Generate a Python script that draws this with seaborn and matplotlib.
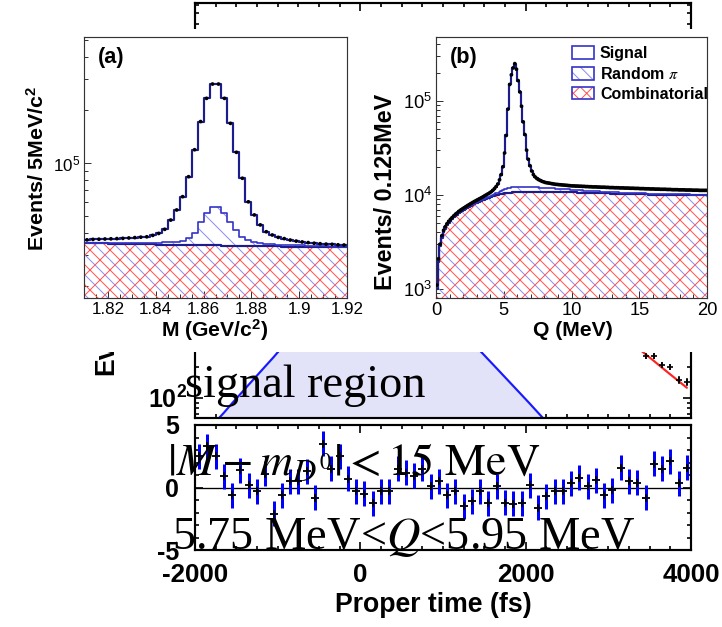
import numpy as np
import matplotlib
matplotlib.use("Agg")
import matplotlib.pyplot as plt
import matplotlib.hatch as mhatch
from matplotlib.path import Path
import seaborn as sns
from matplotlib.patches import Patch, Rectangle
from matplotlib.legend_handler import HandlerTuple
from matplotlib.ticker import (LogLocator, NullFormatter, MultipleLocator,
                               FixedLocator, FuncFormatter)

# ------------------------------------------------------------------ data
# (a) reconstructed D0 mass, 2.5 MeV/c^2 bins from 1.81 to 1.92 GeV/c^2
mass_edges = np.round(np.linspace(1.81, 1.92, 45), 4)
mass_total = [3.66e4, 3.68e4, 3.69e4, 3.70e4, 3.71e4, 3.72e4, 3.73e4, 3.75e4, 3.77e4, 3.79e4,
              3.81e4, 3.88e4, 3.98e4, 4.20e4, 4.74e4, 5.41e4, 6.44e4, 8.36e4, 1.19e5, 1.72e5,
              2.33e5, 2.81e5, 2.81e5, 2.33e5, 1.68e5, 1.15e5, 8.19e4, 6.02e4, 5.07e4, 4.45e4,
              4.07e4, 3.90e4, 3.78e4, 3.72e4, 3.65e4, 3.60e4, 3.56e4, 3.53e4, 3.50e4, 3.48e4,
              3.46e4, 3.45e4, 3.43e4, 3.42e4]
mass_comb_rpi = [3.52e4, 3.52e4, 3.52e4, 3.52e4, 3.52e4, 3.52e4, 3.52e4, 3.52e4, 3.52e4, 3.52e4,
                 3.52e4, 3.52e4, 3.53e4, 3.54e4, 3.55e4, 3.57e4, 3.62e4, 3.73e4, 3.98e4, 4.64e4,
                 5.22e4, 5.65e4, 5.65e4, 5.22e4, 4.64e4, 4.16e4, 3.81e4, 3.65e4, 3.55e4, 3.50e4,
                 3.47e4, 3.45e4, 3.44e4, 3.43e4, 3.42e4, 3.41e4, 3.40e4, 3.39e4, 3.38e4, 3.37e4,
                 3.36e4, 3.35e4, 3.35e4, 3.34e4]
mass_comb = [3.50e4, 3.50e4, 3.49e4, 3.49e4, 3.48e4, 3.48e4, 3.47e4, 3.47e4, 3.46e4, 3.46e4,
             3.45e4, 3.45e4, 3.44e4, 3.44e4, 3.43e4, 3.43e4, 3.42e4, 3.42e4, 3.41e4, 3.41e4,
             3.40e4, 3.40e4, 3.40e4, 3.39e4, 3.39e4, 3.38e4, 3.38e4, 3.38e4, 3.37e4, 3.37e4,
             3.36e4, 3.36e4, 3.36e4, 3.35e4, 3.35e4, 3.35e4, 3.34e4, 3.34e4, 3.34e4, 3.34e4,
             3.33e4, 3.33e4, 3.33e4, 3.33e4]

# (b) Q value, 0.125 MeV bins from 0 to 20 MeV (in thousands of events)
q_edges = np.linspace(0.0, 20.0, 161)
q_total_k = [1.1, 2.1, 3.0, 3.7, 4.2, 4.6, 4.95, 5.25, 5.5, 5.75,
             6.0, 6.25, 6.45, 6.7, 6.9, 7.1, 7.3, 7.5, 7.7, 7.9,
             8.1, 8.3, 8.5, 8.7, 8.9, 9.1, 9.3, 9.5, 9.75, 10.0,
             10.25, 10.5, 10.8, 11.2, 11.7, 12.3, 13.1, 14.5, 16.5, 20.0,
             28.0, 43.0, 82.0, 150.0, 190.0, 225.0, 250.0, 218.0, 165.0, 125.0,
             88.0, 60.0, 44.0, 30.0, 24.0, 20.5, 18.0, 16.5, 15.6, 15.0,
             14.6, 14.3, 14.0, 13.8, 13.6, 13.5, 13.4, 13.3, 13.2, 13.1,
             13.0, 12.95, 12.9, 12.85, 12.8, 12.75, 12.7, 12.65, 12.6, 12.55,
             12.5, 12.5, 12.45, 12.45, 12.4, 12.4, 12.35, 12.35, 12.3, 12.3,
             12.25, 12.25, 12.2, 12.2, 12.2, 12.15, 12.15, 12.1, 12.1, 12.1,
             12.05, 12.05, 12.0, 12.0, 12.0, 11.95, 11.95, 11.95, 11.9, 11.9,
             11.9, 11.85, 11.85, 11.85, 11.8, 11.8, 11.8, 11.75, 11.75, 11.75,
             11.7, 11.7, 11.7, 11.65, 11.65, 11.65, 11.6, 11.6, 11.6, 11.55,
             11.55, 11.55, 11.5, 11.5, 11.5, 11.5, 11.45, 11.45, 11.45, 11.4,
             11.4, 11.4, 11.4, 11.35, 11.35, 11.35, 11.35, 11.3, 11.3, 11.3,
             11.3, 11.25, 11.25, 11.25, 11.25, 11.2, 11.2, 11.2, 11.2, 11.2]
q_comb_rpi_k = [1.05, 2.02, 2.95, 3.6, 4.1, 4.5, 4.85, 5.15, 5.4, 5.65,
                5.9, 6.1, 6.3, 6.5, 6.7, 6.9, 7.05, 7.25, 7.4, 7.6,
                7.75, 7.9, 8.1, 8.25, 8.4, 8.6, 8.75, 8.9, 9.1, 9.25,
                9.45, 9.6, 9.8, 10.0, 10.2, 10.4, 10.6, 10.8, 11.0, 11.25,
                11.5, 11.7, 11.85, 12.0, 12.1, 12.1, 12.1, 12.1, 12.1, 12.1,
                12.1, 12.1, 12.1, 12.1, 12.1, 12.1, 12.1, 12.1, 12.1, 12.1,
                12.05, 12.0, 12.0, 11.95, 11.9, 11.9, 11.85, 11.8, 11.8, 11.75,
                11.7, 11.7, 11.65, 11.6, 11.6, 11.55, 11.5, 11.5, 11.45, 11.4,
                11.4, 11.35, 11.3, 11.3, 11.25, 11.2, 11.2, 11.15, 11.1, 11.1,
                11.05, 11.0, 11.0, 10.95, 10.95, 10.9, 10.9, 10.85, 10.85, 10.8,
                10.8, 10.75, 10.75, 10.7, 10.7, 10.7, 10.65, 10.65, 10.6, 10.6,
                10.6, 10.55, 10.55, 10.55, 10.5, 10.5, 10.5, 10.45, 10.45, 10.45,
                10.4, 10.4, 10.4, 10.4, 10.35, 10.35, 10.35, 10.35, 10.3, 10.3,
                10.3, 10.3, 10.3, 10.25, 10.25, 10.25, 10.25, 10.25, 10.2, 10.2,
                10.2, 10.2, 10.2, 10.2, 10.15, 10.15, 10.15, 10.15, 10.15, 10.15,
                10.1, 10.1, 10.1, 10.1, 10.1, 10.1, 10.1, 10.1, 10.1, 10.1]
q_comb_k = [1.0, 1.95, 2.85, 3.5, 4.0, 4.4, 4.75, 5.05, 5.3, 5.55,
            5.8, 6.0, 6.2, 6.4, 6.6, 6.8, 6.95, 7.15, 7.3, 7.5,
            7.65, 7.8, 8.0, 8.15, 8.3, 8.45, 8.6, 8.75, 8.9, 9.05,
            9.2, 9.35, 9.5, 9.65, 9.8, 9.95, 10.05, 10.15, 10.25, 10.35,
            10.45, 10.5, 10.55, 10.6, 10.6, 10.65, 10.65, 10.7, 10.7, 10.7,
            10.7, 10.7, 10.7, 10.7, 10.7, 10.7, 10.7, 10.7, 10.7, 10.7,
            10.7, 10.7, 10.7, 10.7, 10.7, 10.7, 10.7, 10.7, 10.7, 10.7,
            10.7, 10.7, 10.7, 10.7, 10.7, 10.7, 10.7, 10.7, 10.7, 10.7,
            10.65, 10.65, 10.65, 10.6, 10.6, 10.6, 10.6, 10.55, 10.55, 10.55,
            10.55, 10.5, 10.5, 10.5, 10.5, 10.45, 10.45, 10.45, 10.45, 10.4,
            10.4, 10.4, 10.4, 10.35, 10.35, 10.35, 10.35, 10.3, 10.3, 10.3,
            10.3, 10.25, 10.25, 10.25, 10.25, 10.2, 10.2, 10.2, 10.2, 10.2,
            10.15, 10.15, 10.15, 10.15, 10.15, 10.1, 10.1, 10.1, 10.1, 10.1,
            10.1, 10.1, 10.1, 10.1, 10.1, 10.05, 10.05, 10.05, 10.05, 10.05,
            10.05, 10.05, 10.05, 10.05, 10.05, 10.0, 10.0, 10.0, 10.0, 10.0,
            10.0, 10.0, 10.0, 10.0, 10.0, 10.0, 10.0, 10.0, 10.0, 10.0]

# proper-time distribution in the signal region, 100 fs bins
t_centers = np.arange(-1950, 4000, 100)
t_signal_fit = [39, 48, 59, 72, 89, 109, 134, 164, 201, 246,
                305, 390, 520, 720, 1050, 1600, 2500, 3900, 5800, 8000,
                10000, 11200, 11500, 11000, 9800, 8300, 6700, 5200, 3900, 2800,
                1950, 1300, 850, 450, 283, 233, 192, 158, 130, 107,
                88, 72, 59, 49, 40, 33, 27, 22, 18, 15,
                12, 10, 8.3, 6.8, 5.6, 4.6, 3.8, 3.1, 2.6, 2.1]
t_total_fit = [600, 620, 640, 660, 690, 720, 760, 800, 850, 900,
               960, 1050, 1200, 1400, 1800, 2400, 3300, 4700, 6600, 8800,
               10800, 12000, 12300, 11800, 10600, 9100, 7500, 6000, 4700, 3600,
               2800, 2200, 1800, 1500, 1300, 1150, 1050, 970, 900, 840,
               790, 740, 700, 660, 620, 590, 560, 530, 500, 470,
               440, 412, 355, 305, 263, 227, 195, 168, 145, 125]
t_data = [661, 702, 703, 683, 674, 758, 765, 792, 882, 837,
          941, 1066, 1217, 1445, 1766, 2571, 3397, 4872, 6657, 8772,
          10748, 11862, 12267, 11767, 10755, 9233, 7587, 6116, 4707, 3630,
          2768, 2186, 1737, 1457, 1289, 1107, 1053, 933, 861, 804,
          796, 697, 682, 652, 612, 598, 579, 532, 513, 457,
          436, 444, 364, 312, 250, 253, 208, 198, 149, 142]
t_pull = [2.5, 3.3, 2.5, 0.9, -0.6, 1.4, 0.2, -0.3, 1.1, -2.1,
          -0.6, 0.5, 0.5, 1.3, -0.8, 3.5, 1.5, 2.5, 0.7, -0.3,
          -0.5, -1.25, -0.3, -0.3, 1.5, 1.2, 0.95, 1.5, 0.1, 0.5,
          -0.6, -0.3, -1.5, -1.1, -0.3, -1.25, 0.1, -1.2, -1.3, -1.25,
          0.2, -1.6, -0.7, -0.3, -0.3, 0.35, 0.8, 0.1, 0.6, -0.6,
          -0.2, 1.6, 0.5, 0.4, -0.8, 1.9, 1.5, 2.1, 0.35, 1.6]


# ------------------------------------------------------------------ hatching
# The "\" hatch of the random-pi fill sits half a spacing away from the
# "\" strokes of the "x" hatch, so both stay visible where they overlap.
class _CrossBackslash(mhatch.SouthEastHatch):
    def __init__(self, hatch, density):
        self.num_lines = int((hatch.count("x") + hatch.count("X")) * density)
        self.num_vertices = (self.num_lines + 1) * 2 if self.num_lines else 0


class _ShiftedBackslash(mhatch.HatchPatternBase):
    def __init__(self, hatch, density):
        self.num_lines = int(hatch.count("\\") * density)
        self.num_vertices = (self.num_lines + 2) * 2 if self.num_lines else 0

    def set_vertices_and_codes(self, vertices, codes):
        n = self.num_lines
        steps = (np.arange(n + 2) - 0.5) / n - 0.5
        vertices[0::2, 0] = 0.0 + steps
        vertices[0::2, 1] = 1.0 + steps
        vertices[1::2, 0] = 1.0 + steps
        vertices[1::2, 1] = 0.0 + steps
        codes[0::2] = Path.MOVETO
        codes[1::2] = Path.LINETO


mhatch._hatch_types[mhatch._hatch_types.index(mhatch.SouthEastHatch)] = _CrossBackslash
mhatch._hatch_types.append(_ShiftedBackslash)

# ------------------------------------------------------------------ style
W, H, DPI = 722, 627, 120
NAVY = "#1c1c8f"
LINE_BLUE = "#3434c8"
HATCH_BLUE = "#8c8cf0"
HATCH_RED = "#ff5555"
FIT_BLUE = "#1a1aff"
FILL_BLUE = "#e2e2f9"
FIT_RED = "#ff2222"
PULL_BLUE = "#0000ff"
FRAME = "#333333"

sns.set_theme(style="ticks")
plt.rcParams.update({
    "font.family": ["Liberation Sans", "DejaVu Sans"],
    "mathtext.fontset": "stix",
    "axes.unicode_minus": False,
    "hatch.linewidth": 0.6,
    "axes.facecolor": "white",
    "figure.facecolor": "white",
    "text.color": "black",
    "axes.labelcolor": "black",
    "xtick.color": "black",
    "ytick.color": "black",
    "xtick.labelcolor": "black",
    "ytick.labelcolor": "black",
})


def rect(x0, y0, x1, y1):
    """Axes rectangle from pixel corners (origin top-left)."""
    return [x0 / W, 1 - y1 / H, (x1 - x0) / W, (y1 - y0) / H]


def fpt(x, y):
    return x / W, 1 - y / H


fig = plt.figure(figsize=(W / DPI, H / DPI), dpi=DPI)

# ------------------------------------------------------------------ proper-time fit
ax_t = fig.add_axes(rect(195, 3, 691, 418), zorder=0)
ax_r = fig.add_axes(rect(195, 425, 691, 550), zorder=0)

ax_t.set_yscale("log")
ax_t.fill_between(t_centers, t_signal_fit, 1, color=FILL_BLUE, lw=0, zorder=1)
sns.lineplot(x=t_centers, y=t_signal_fit, ax=ax_t, color=FIT_BLUE, lw=1.3, zorder=2)
sns.lineplot(x=t_centers, y=t_total_fit, ax=ax_t, color=FIT_RED, lw=1.3, zorder=2)
ax_t.errorbar(t_centers, t_data, yerr=np.sqrt(t_data), fmt="+", color="black",
              ms=4, mew=1.0, elinewidth=0.9, zorder=3)
ax_t.set_xlim(-2000, 4000)
ax_t.set_ylim(64, 6.3e5)
ax_t.yaxis.set_major_locator(LogLocator(base=10))
ax_t.yaxis.set_minor_locator(LogLocator(base=10, subs=np.arange(2, 10)))
ax_t.yaxis.set_minor_formatter(NullFormatter())
ax_t.yaxis.set_major_formatter(FuncFormatter(
    lambda v, p: r"$\mathdefault{10^{2}}$" if abs(v - 100) < 1e-6 else ""))

ax_r.axhline(0, color="black", lw=0.8, zorder=1)
ax_r.errorbar(t_centers, t_pull, yerr=1.0, fmt="none", ecolor=PULL_BLUE,
              elinewidth=1.8, zorder=2)
ax_r.plot(t_centers, t_pull, ls="none", marker="+", color="black", ms=5, mew=1.1, zorder=3)
ax_r.set_xlim(-2000, 4000)
ax_r.set_ylim(-5, 5)
ax_r.yaxis.set_major_locator(FixedLocator([-5, 0, 5]))
ax_r.yaxis.set_minor_locator(MultipleLocator(1))

for ax in (ax_t, ax_r):
    ax.set_xlabel("")
    ax.set_ylabel("")
    ax.xaxis.set_major_locator(MultipleLocator(2000))
    ax.xaxis.set_minor_locator(MultipleLocator(250))
    ax.tick_params(which="both", direction="in", top=True, right=True,
                   width=1.0, color="black")
    ax.tick_params(which="major", length=5)
    ax.tick_params(which="minor", length=2.6)
    for sp in ax.spines.values():
        sp.set_linewidth(1.3)
        sp.set_color("black")
ax_t.tick_params(labelbottom=False, labelsize=15, pad=5)
ax_r.tick_params(axis="x", labelsize=15.5, pad=7.5)
ax_r.tick_params(axis="y", labelsize=15, pad=9.5)

fig.text(*fpt(433, 605), "Proper time (fs)", ha="center", va="center",
         fontsize=16, fontweight="bold", zorder=0.5)
fig.text(*fpt(106, 375), "Ev", rotation=90, ha="center", va="bottom",
         fontsize=16, fontweight="bold", zorder=0.5)

# white sheet carrying the mass and Q panels
fig.add_artist(Rectangle(fpt(0, 352), 1, (352 - 29) / H, transform=fig.transFigure,
                         facecolor="white", edgecolor="none", zorder=1))


def stacked_hist(ax, edges, comb_rpi, comb, total, base):
    centers = 0.5 * (edges[:-1] + edges[1:])
    bins = list(edges)
    ax.fill_between(edges, np.append(comb_rpi, comb_rpi[-1]), base, step="post",
                    facecolor="none", edgecolor=HATCH_BLUE, lw=0, hatch="\\\\", zorder=1)
    ax.fill_between(edges, np.append(comb, comb[-1]), base, step="post",
                    facecolor="none", edgecolor=HATCH_RED, lw=0, hatch="xx", zorder=1)
    sns.histplot(x=centers, weights=comb, bins=bins, element="step", fill=False,
                 color=NAVY, linewidth=1.3, ax=ax, zorder=2)
    sns.histplot(x=centers, weights=comb_rpi, bins=bins, element="step", fill=False,
                 color=LINE_BLUE, linewidth=1.0, ax=ax, zorder=2)
    sns.histplot(x=centers, weights=total, bins=bins, element="step", fill=False,
                 color=NAVY, linewidth=1.3, ax=ax, zorder=3)
    sns.scatterplot(x=centers, y=total, ax=ax, color="black", s=5, marker="o",
                    edgecolor="none", zorder=4, legend=False)
    ax.set_yscale("log")
    ax.set_xlabel("")
    ax.set_ylabel("")
    ax.yaxis.set_major_locator(LogLocator(base=10))
    ax.yaxis.set_minor_locator(LogLocator(base=10, subs=np.arange(2, 10)))
    ax.yaxis.set_minor_formatter(NullFormatter())
    ax.tick_params(which="both", direction="in", top=False, right=False,
                   color=FRAME, width=0.6)
    ax.tick_params(which="major", length=4.2)
    ax.tick_params(which="minor", length=2.2)
    for sp in ax.spines.values():
        sp.set_linewidth(0.7)
        sp.set_color(FRAME)


# ------------------------------------------------------------------ (a) mass
ax_a = fig.add_axes(rect(84, 37, 347, 298), zorder=2)
stacked_hist(ax_a, mass_edges, np.array(mass_comb_rpi), np.array(mass_comb),
             np.array(mass_total), 1e3)
ax_a.set_xlim(1.81, 1.92)
ax_a.set_ylim(1.71e4, 5.2e5)
ax_a.xaxis.set_major_locator(MultipleLocator(0.02))
ax_a.xaxis.set_minor_locator(MultipleLocator(0.005))
ax_a.xaxis.set_major_formatter(FuncFormatter(lambda v, p: f"{v:g}"))
ax_a.tick_params(labelsize=10.2, pad=2.4)

# ------------------------------------------------------------------ (b) Q
ax_b = fig.add_axes(rect(436, 37, 707, 298), zorder=2)
stacked_hist(ax_b, q_edges, np.array(q_comb_rpi_k) * 1e3, np.array(q_comb_k) * 1e3,
             np.array(q_total_k) * 1e3, 1e2)
ax_b.set_xlim(0, 20)
ax_b.set_ylim(802, 4.8e5)
ax_b.xaxis.set_major_locator(MultipleLocator(5))
ax_b.xaxis.set_minor_locator(MultipleLocator(1))
ax_b.tick_params(labelsize=11, pad=2.4)

h_sig = Patch(facecolor="white", edgecolor=LINE_BLUE, linewidth=1.0)
h_rpi = (Patch(facecolor="white", edgecolor=HATCH_BLUE, hatch="\\\\\\", linewidth=0),
         Patch(facecolor="none", edgecolor=LINE_BLUE, linewidth=1.0))
h_comb = (Patch(facecolor="white", edgecolor=HATCH_RED, hatch="xxx", linewidth=0),
          Patch(facecolor="none", edgecolor=LINE_BLUE, linewidth=1.0))
ax_b.legend([h_sig, h_rpi, h_comb], ["Signal", r"Random $\pi$", "Combinatorial"],
            handler_map={tuple: HandlerTuple(ndivide=1)},
            loc="upper left", bbox_to_anchor=fpt(572, 46), bbox_transform=fig.transFigure,
            frameon=False, borderpad=0, borderaxespad=0,
            prop={"size": 9.6, "weight": "bold"},
            handlelength=1.4, handleheight=0.85, handletextpad=0.35, labelspacing=0.3)

fig.text(*fpt(98, 57), "(a)", ha="left", va="center", fontsize=13,
         fontweight="bold", zorder=5)
fig.text(*fpt(450, 57), "(b)", ha="left", va="center", fontsize=13,
         fontweight="bold", zorder=5)
fig.text(*fpt(37, 168), r"Events/ 5MeV/c$^{\mathdefault{2}}$", rotation=90,
         ha="center", va="center", fontsize=12.8, fontweight="bold", zorder=5)
fig.text(*fpt(385, 192), "Events/ 0.125MeV", rotation=90,
         ha="center", va="center", fontsize=14, fontweight="bold", zorder=5)
fig.text(*fpt(215, 330), r"M (GeV/c$^{\mathdefault{2}}$)", ha="center", va="center",
         fontsize=12.7, fontweight="bold", zorder=5)
fig.text(*fpt(573, 330), "Q (MeV)", ha="center", va="center", fontsize=12.7,
         fontweight="bold", zorder=5)

# ------------------------------------------------------------------ selection text
fig.text(*fpt(185, 397), "signal region", family="Liberation Serif",
         fontsize=27.8, ha="left", va="baseline", zorder=6)
fig.text(*fpt(167, 475), r"$|M - m_{D^0}| < 15\ \mathrm{MeV}$",
         fontsize=27.6, ha="left", va="baseline", zorder=6)
fig.text(*fpt(172, 549), r"5.75 MeV<$Q$<5.95 MeV", family="Liberation Serif",
         fontsize=27.8, ha="left", va="baseline", zorder=6)

# bold numbers on the proper-time axes
fig.canvas.draw()
for ax in (ax_t, ax_r):
    for lab in ax.get_xticklabels() + ax.get_yticklabels():
        lab.set_fontweight("bold")

fig.savefig("out.png", dpi=DPI)
